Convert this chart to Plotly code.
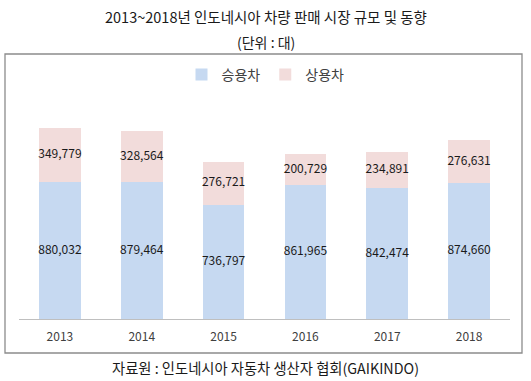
import plotly.graph_objects as go

years = ["2013", "2014", "2015", "2016", "2017", "2018"]
passenger = [880032, 879464, 736797, 861965, 842474, 874660]
commercial = [349779, 328564, 276721, 200729, 234891, 276631]
series_names = ["승용차", "상용차"]
title_text = "2013~2018년 인도네시아 차량 판매 시장 규모 및 동향"
subtitle_text = "(단위 : 대)"
source_text = "자료원 : 인도네시아 자동차 생산자 협회(GAIKINDO)"

FONT = "Malgun Gothic, Noto Sans CJK KR, sans-serif"
W, H = 531, 381

def py(px):
    return (H - px) / H

def fmt(v):
    return f"{v:,}"

fig = go.Figure()
fig.add_trace(go.Bar(x=years, y=passenger, name=series_names[0],
                     marker=dict(color="#C6D9F1", line=dict(width=0)),
                     hoverinfo="y"))
fig.add_trace(go.Bar(x=years, y=commercial, name=series_names[1],
                     marker=dict(color="#F2DCDB", line=dict(width=0)),
                     hoverinfo="y"))

# data labels centred in each segment
lab_x = years + years
lab_y = [p / 2 for p in passenger] + [p + c / 2 for p, c in zip(passenger, commercial)]
lab_t = [fmt(p) for p in passenger] + [fmt(c) for c in commercial]
fig.add_trace(go.Scatter(x=lab_x, y=lab_y, text=lab_t, mode="text",
                         textfont=dict(family=FONT, size=12, color="#1a1a1a"),
                         showlegend=False, hoverinfo="skip"))

fig.update_layout(
    width=W, height=H,
    margin=dict(l=0, r=0, t=0, b=0),
    paper_bgcolor="white", plot_bgcolor="white",
    barmode="stack", bargap=0.49,
    font=dict(family=FONT, size=12, color="#1a1a1a"),
    showlegend=True,
    legend=dict(orientation="h", x=0.5, xanchor="center", y=py(75), yanchor="middle",
                traceorder="normal", font=dict(size=14, color="#404040"),
                itemwidth=30, bgcolor="rgba(0,0,0,0)"),
    xaxis=dict(domain=[19 / W, 510 / W], showline=True, linecolor="#BFBFBF", linewidth=1,
               ticks="outside", ticklen=7, tickcolor="rgba(0,0,0,0)",
               tickfont=dict(size=12, color="#404040"), showgrid=False, fixedrange=True),
    yaxis=dict(domain=[py(319), py(80)], range=[0, 1539000], visible=False,
               showgrid=False, fixedrange=True),
    shapes=[dict(type="rect", xref="paper", yref="paper",
                 x0=5 / W, x1=522 / W, y0=py(353), y1=py(54),
                 line=dict(color="#8C8C8C", width=1.3), fillcolor="rgba(0,0,0,0)",
                 layer="below")],
    annotations=[
        dict(text=title_text, xref="paper", yref="paper", x=0.5, y=py(17),
             xanchor="center", yanchor="middle", showarrow=False,
             font=dict(size=14.5, color="#1a1a1a")),
        dict(text=subtitle_text, xref="paper", yref="paper", x=0.5, y=py(42),
             xanchor="center", yanchor="middle", showarrow=False,
             font=dict(size=14, color="#1a1a1a")),
        dict(text=source_text, xref="paper", yref="paper", x=0.5, y=py(367),
             xanchor="center", yanchor="middle", showarrow=False,
             font=dict(size=14.3, color="#1a1a1a")),
    ],
)

fig.write_html("out.html", config={"displayModeBar": False},
               post_script="document.body.style.margin='0';document.body.style.overflow='hidden';")
